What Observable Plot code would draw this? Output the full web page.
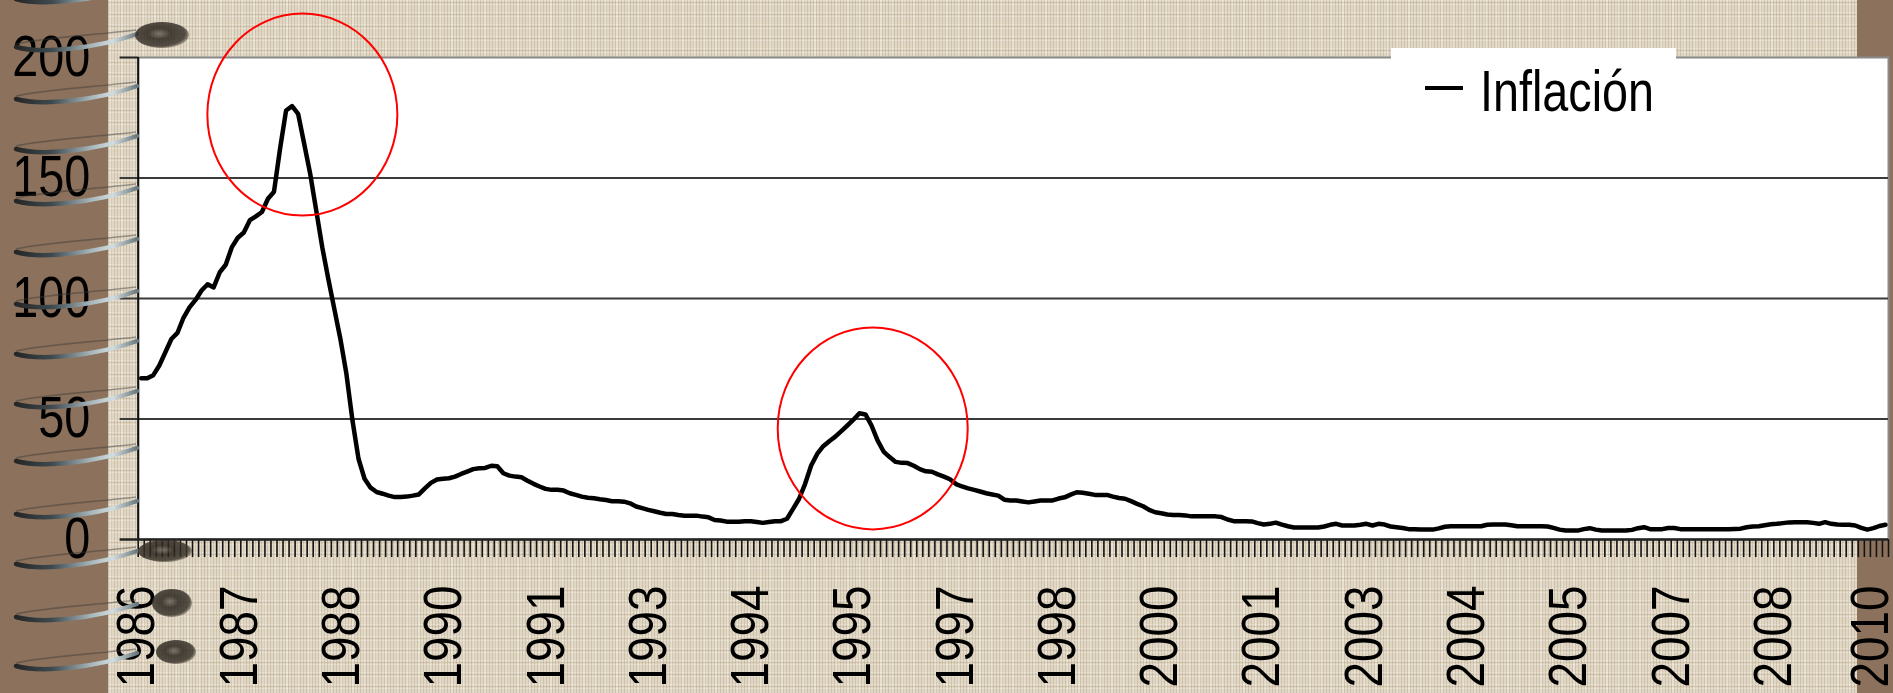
<!DOCTYPE html>
<html>
<head>
<meta charset="utf-8">
<script src="https://cdn.jsdelivr.net/npm/d3@7"></script>
<script src="https://cdn.jsdelivr.net/npm/@observablehq/plot@0.6"></script>
<style>
html, body { margin: 0; padding: 0; background: #8c725c; }
#wrap {
  position: relative; width: 1893px; height: 693px; overflow: hidden;
  background-color: #e0d6c2;
  background-image:
    repeating-linear-gradient(90deg, rgba(130,110,80,0.20) 0 1px, transparent 1px 3px),
    repeating-linear-gradient(0deg, rgba(255,255,255,0.30) 0 1px, transparent 1px 4px),
    repeating-linear-gradient(0deg, rgba(130,110,80,0.14) 0 1px, transparent 1px 6px),
    repeating-linear-gradient(90deg, rgba(255,255,255,0.25) 0 2px, transparent 2px 11px);
}
#lstripe { position: absolute; left: 0; top: 0; width: 108px; height: 693px; background: #8c725c; }
#rstripe { position: absolute; left: 1857px; top: 0; width: 36px; height: 693px; background: #8c725c; }
#chart { position: absolute; left: 0; top: 0; }
#deco { position: absolute; left: 0; top: 0; pointer-events: none; }
</style>
</head>
<body>
<div id="wrap">
  <div id="lstripe"></div>
  <div id="rstripe"></div>
  <div id="chart"></div>
  <svg id="deco" width="1893" height="693"></svg>
</div>
<script>
// ---- Data: monthly annual inflation (%), Jan 1986 – Feb 2010 ----
const y1986 = [66.9, 66.9, 68.2, 72.2, 77.7, 83.2, 85.7, 92.0, 96.3, 99.4, 103.3, 105.9];
const y1987 = [104.6, 110.8, 114.0, 121.2, 125.2, 127.4, 132.5, 134.1, 135.9, 141.4, 144.3, 162.1];
const y1988 = [178.0, 179.8, 176.6, 164.2, 151.7, 136.5, 121.2, 108.1, 95.6, 83.2, 68.7, 49.4];
const y1989 = [33.5, 25.2, 21.5, 19.7, 19.0, 18.2, 17.6, 17.6, 17.8, 18.2, 18.7, 21.2];
const y1990 = [23.5, 24.9, 25.2, 25.4, 26.1, 27.2, 28.2, 29.2, 29.6, 29.7, 30.6, 30.4];
const y1991 = [27.5, 26.5, 26.1, 25.8, 24.4, 23.1, 22.0, 21.0, 20.6, 20.6, 20.3, 19.2];
const y1992 = [18.5, 17.8, 17.3, 17.1, 16.7, 16.4, 15.9, 15.9, 15.7, 15.0, 13.7, 13.0];
const y1993 = [12.3, 11.7, 11.1, 10.6, 10.6, 10.2, 9.9, 9.9, 9.9, 9.5, 9.2, 8.1];
const y1994 = [7.9, 7.4, 7.4, 7.4, 7.6, 7.6, 7.3, 6.9, 7.3, 7.6, 7.6, 8.6];
const y1995 = [12.7, 16.9, 23.1, 30.7, 35.5, 38.7, 40.8, 42.7, 45.0, 47.3, 49.7, 52.4];
const y1996 = [51.9, 47.3, 41.1, 36.5, 34.2, 32.2, 31.8, 31.7, 30.6, 29.2, 28.3, 28.1];
const y1997 = [27.0, 26.1, 25.0, 23.0, 22.0, 21.2, 20.6, 19.9, 19.2, 18.7, 18.2, 16.5];
const y1998 = [16.2, 16.2, 15.8, 15.4, 15.8, 16.2, 16.2, 16.2, 17.0, 17.5, 18.6, 19.6];
const y1999 = [19.4, 19.0, 18.5, 18.5, 18.5, 17.8, 17.2, 16.9, 15.9, 14.8, 13.8, 12.3];
const y2000 = [11.3, 10.9, 10.4, 10.2, 10.2, 10.0, 9.6, 9.6, 9.6, 9.6, 9.6, 9.3];
const y2001 = [8.3, 7.6, 7.6, 7.6, 7.5, 6.8, 6.2, 6.5, 7.0, 6.2, 5.5, 5.0];
const y2002 = [5.0, 5.0, 5.0, 5.0, 5.4, 6.1, 6.5, 5.8, 5.8, 5.8, 6.1, 6.5];
const y2003 = [5.8, 6.5, 6.2, 5.4, 5.1, 4.8, 4.3, 4.3, 4.2, 4.1, 4.1, 4.6];
const y2004 = [5.3, 5.5, 5.5, 5.5, 5.5, 5.5, 5.5, 6.1, 6.2, 6.2, 6.2, 5.9];
const y2005 = [5.5, 5.5, 5.5, 5.5, 5.5, 5.4, 4.8, 4.1, 3.7, 3.7, 3.7, 4.3];
const y2006 = [4.7, 4.1, 3.7, 3.7, 3.7, 3.7, 3.7, 4.0, 4.7, 5.1, 4.3, 4.3];
const y2007 = [4.3, 4.8, 4.8, 4.3, 4.3, 4.3, 4.3, 4.3, 4.3, 4.3, 4.3, 4.3];
const y2008 = [4.4, 4.5, 5.1, 5.4, 5.5, 5.9, 6.3, 6.5, 6.8, 7.1, 7.2, 7.2];
const y2009 = [7.2, 6.9, 6.5, 7.2, 6.5, 6.2, 6.1, 6.1, 5.8, 4.8, 4.1, 4.7];
const y2010 = [5.6, 6.1];

const seriesName = "Inflación";
const tickLabels = ["1986","1987","1988","1990","1991","1993","1994","1995","1997","1998","2000","2001","2003","2004","2005","2007","2008","2010"];
const labelEvery = 17;            // one label every 17 monthly categories
const yTicks = [0, 50, 100, 150, 200];
const gridValues = [50, 100, 150];
// red highlight ellipses (category position, value)
const highlightX = [27.2, 121.7];
const highlightY = [176.3, 46.1];

const inflation = [].concat(y1986, y1987, y1988, y1989, y1990, y1991, y1992, y1993, y1994,
  y1995, y1996, y1997, y1998, y1999, y2000, y2001, y2002, y2003, y2004, y2005, y2006,
  y2007, y2008, y2009, y2010);
const nCat = inflation.length;     // 290
const PX_PER_CAT = (1888 - 137.7) / nCat;
// label k sits at category k*17 (slightly drifting left, as in the original layout)
const labelData = tickLabels.map((t, k) => ({
  pos: k * labelEvery + 0.5 - (3.7 + 0.33 * k + (k === tickLabels.length - 1 ? 5 : 0)) / PX_PER_CAT,
  text: t
}));
const highlights = highlightX.map((x, i) => ({x, y: highlightY[i]}));

// ellipse symbol for the red annotation rings
const RX = 95, RY = 101, K = 0.5523;
const ellipseSymbol = {
  draw(ctx) {
    ctx.moveTo(RX, 0);
    ctx.bezierCurveTo(RX, K * RY, K * RX, RY, 0, RY);
    ctx.bezierCurveTo(-K * RX, RY, -RX, K * RY, -RX, 0);
    ctx.bezierCurveTo(-RX, -K * RY, -K * RX, -RY, 0, -RY);
    ctx.bezierCurveTo(K * RX, -RY, RX, -K * RY, RX, 0);
    ctx.closePath();
  }
};

const FONT = "'Liberation Sans', Arial, sans-serif";

const chart = Plot.plot({
  width: 1893,
  height: 693,
  marginLeft: 137.7,
  marginRight: 5,
  marginTop: 57,
  marginBottom: 154,
  x: {domain: [0, nCat], axis: null},
  y: {domain: [0, 200], axis: null},
  style: {background: "transparent", fontFamily: FONT, color: "black", overflow: "visible"},
  marks: [
    Plot.frame({fill: "white", stroke: "#8a8a8a", strokeWidth: 2}),
    Plot.ruleY(gridValues, {x1: -3, x2: nCat, stroke: "#3a3a3a", strokeWidth: 2}),
    Plot.ruleY([200], {x1: -3, x2: 0, stroke: "#222", strokeWidth: 2}),
    Plot.ruleX(d3.range(nCat + 1), {y1: 0, y2: -7.5, stroke: "#141414", strokeWidth: 1.6}),
    Plot.ruleX([0], {y1: 0, y2: 200, stroke: "#111", strokeWidth: 2}),
    Plot.ruleY([0], {x1: -3, x2: nCat, stroke: "#222", strokeWidth: 2.5}),
    Plot.line(inflation, {x: (d, i) => i + 0.5, y: d => d, stroke: "black", strokeWidth: 4.5}),
    Plot.dot(highlights, {x: "x", y: "y", symbol: ellipseSymbol, r: 98, stroke: "#ff0000", strokeWidth: 2, fill: "none"}),
    Plot.text(yTicks, {x: 0, y: d => d, text: d => String(d), textAnchor: "end", lineAnchor: "middle", dx: -48, fontSize: 57, fill: "black"}),
    Plot.text(labelData, {x: "pos", text: "text", frameAnchor: "bottom", dy: 46, rotate: -90, textAnchor: "end", lineAnchor: "middle", fontSize: 53, fill: "black"})
  ]
});

document.getElementById("chart").appendChild(chart);

// condense the text like the narrow font of the original
const svg = d3.select(chart);
const textGroups = svg.selectAll("g[aria-label='text']").nodes();
if (textGroups[0]) {
  d3.select(textGroups[0]).selectAll("text").each(function () {
    const t = this.textContent;
    this.setAttribute("textLength", (t.length * 0.556 * 57 * 0.82).toFixed(1));
    this.setAttribute("lengthAdjust", "spacingAndGlyphs");
  });
}
if (textGroups[1]) {
  d3.select(textGroups[1]).selectAll("text").each(function () {
    this.setAttribute("textLength", "102");
    this.setAttribute("lengthAdjust", "spacingAndGlyphs");
  });
}

// legend box
const lg = svg.append("g").attr("class", "legend");
lg.append("rect").attr("x", 1391).attr("y", 48).attr("width", 285).attr("height", 70).attr("fill", "white");
lg.append("line").attr("x1", 1425).attr("x2", 1463).attr("y1", 88).attr("y2", 88)
  .attr("stroke", "black").attr("stroke-width", 4);
lg.append("text").attr("x", 1480).attr("y", 111).attr("font-size", 58)
  .attr("font-family", FONT).attr("fill", "black").attr("text-anchor", "start")
  .attr("textLength", 174).attr("lengthAdjust", "spacingAndGlyphs")
  .text(seriesName);

// ---- decoration: spiral binding rings and beads ----
const deco = d3.select("#deco");
const defs = deco.append("defs");
const g1 = defs.append("linearGradient").attr("id", "ringGrad").attr("x1", "0").attr("x2", "1").attr("y1", "0").attr("y2", "0");
[["0%", "#262626"], ["30%", "#3e4a4f"], ["62%", "#a7b6bb"], ["80%", "#d2dde0"], ["100%", "#6a787d"]]
  .forEach(([o, c]) => g1.append("stop").attr("offset", o).attr("stop-color", c));
const g2 = defs.append("radialGradient").attr("id", "beadGrad").attr("cx", "0.45").attr("cy", "0.45").attr("r", "0.6");
[["0%", "#6e655a"], ["35%", "#2a241d"], ["80%", "#3b352d"], ["100%", "rgba(90,80,65,0.3)"]]
  .forEach(([o, c]) => g2.append("stop").attr("offset", o).attr("stop-color", c));

const ringY = [-5, 43, 95, 145, 197, 248, 300, 350, 400, 457, 510, 560, 613, 662];
ringY.forEach(y => {
  deco.append("path").attr("d", `M16,${y + 1} C40,${y - 5} 95,${y - 8} 136,${y - 13}`)
    .attr("fill", "none").attr("stroke", "#3b3a38").attr("stroke-width", 1.6).attr("opacity", 0.45);
  deco.append("path").attr("d", `M16,${y + 4} C40,${y + 11} 95,${y + 6} 137,${y - 9}`)
    .attr("fill", "none").attr("stroke", "url(#ringGrad)").attr("stroke-width", 4.5).attr("stroke-linecap", "round");
});
const beads = [[162, 35, 27, 13], [165, 551, 27, 11], [172, 603, 20, 14], [176, 652, 20, 12]];
beads.forEach(([cx, cy, rx, ry]) => {
  deco.append("ellipse").attr("cx", cx).attr("cy", cy).attr("rx", rx).attr("ry", ry)
    .attr("fill", "url(#beadGrad)").attr("opacity", 0.85);
});
</script>
</body>
</html>
